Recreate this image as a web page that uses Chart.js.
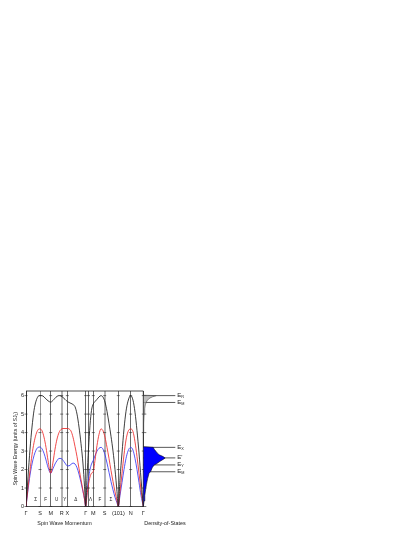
<!DOCTYPE html>
<html>
<head>
<meta charset="utf-8">
<script src="https://cdn.jsdelivr.net/npm/chart.js@4.4.1/dist/chart.umd.min.js"></script>
<style>
  html, body { margin: 0; padding: 0; background: #fff; width: 415px; height: 537px; overflow: hidden; }
  canvas { position: absolute; top: 380px; }
  #main { left: 0; }
  #dos { left: 143px; }
</style>
</head>
<body>
<canvas id="main" width="160" height="157"></canvas>
<canvas id="dos" width="60" height="157"></canvas>
<script>
// ---- data (momentum path in arbitrary path-length units, energies in SJ1) ----
const symK      = [0, 14, 24.7, 35.7, 41.3, 59.7, 62.5, 67.3, 78.7, 92.3, 104.7, 117.3];
const symLabels = ['Γ', 'S', 'M', 'R', 'X', 'Γ', '', 'M', 'S', '(101)', 'N', 'Γ'];
const segK      = [9.7, 19.7, 30.7, 38.7, 49.7, 64.5, 74, 85];
const segLabels = ['Σ', 'F', 'U', 'Y', 'Δ', 'Λ', 'F', 'Σ'];

const kPath = [0, 2, 4, 6, 8, 10, 12, 14, 16, 18, 20, 22, 24.7, 27, 29, 31, 33, 35, 37, 39,
  41.3, 43, 45, 47, 49, 51, 53, 55, 57, 58.5, 59.7, 61, 62.5, 64, 65.5, 67.3, 69, 71, 73, 75,
  77, 79, 81, 83, 85, 87, 89, 91, 92.3, 94, 96, 98, 100, 102, 104.7, 107, 109, 111, 113, 115, 117.3];

const eBlack = [0, 1.6, 3.1, 4.3, 5.2, 5.7, 5.95, 6.0, 6.0, 5.93, 5.82, 5.72, 5.65, 5.74, 5.86, 5.96, 6.0, 5.98, 5.9, 5.8,
  5.68, 5.63, 5.58, 5.52, 5.4, 5.0, 4.3, 3.4, 2.3, 1.1, 0, 1.6, 3.1, 4.4, 5.2, 5.55, 5.68, 5.8, 5.93, 6.0,
  5.92, 5.65, 5.15, 4.5, 3.8, 3.0, 2.0, 0.8, 0, 1.5, 2.9, 4.2, 5.15, 5.7, 6.0, 5.75, 5.1, 4.1, 2.9, 1.5, 0];

const eRed = [0, 1.0, 1.95, 2.8, 3.45, 3.9, 4.15, 4.2, 4.1, 3.75, 3.2, 2.5, 1.8, 2.4, 3.1, 3.65, 4.0, 4.17, 4.22, 4.22,
  4.22, 4.2, 4.08, 3.75, 3.25, 2.7, 2.05, 1.45, 0.85, 0.4, 0, 0.6, 1.2, 1.6, 1.8, 1.9, 2.5, 3.3, 3.9, 4.2,
  4.1, 3.75, 3.2, 2.6, 1.95, 1.35, 0.8, 0.3, 0, 0.8, 1.8, 2.8, 3.6, 4.05, 4.2, 4.05, 3.5, 2.7, 1.8, 0.9, 0];

const eBlue = [0, 0.9, 1.7, 2.3, 2.75, 3.05, 3.2, 3.22, 3.12, 2.88, 2.52, 2.12, 1.8, 2.05, 2.3, 2.48, 2.6, 2.6, 2.5, 2.35,
  2.2, 2.2, 2.28, 2.35, 2.3, 2.1, 1.75, 1.3, 0.8, 0.4, 0, 0.8, 1.5, 2.0, 2.3, 2.5, 2.75, 3.0, 3.15, 3.2,
  3.1, 2.8, 2.35, 1.85, 1.35, 0.9, 0.5, 0.2, 0, 0.6, 1.3, 2.0, 2.6, 3.0, 3.2, 3.05, 2.6, 2.0, 1.3, 0.6, 0];

// density of states (energy, states in arbitrary units)
const dosBlueE = [0, 0.3, 0.6, 0.9, 1.2, 1.5, 1.8, 1.9, 2.1, 2.25, 2.3, 2.45, 2.55, 2.62, 2.7, 2.8, 2.9, 3.0, 3.1, 3.2, 3.24];
const dosBlueN = [0, 0.8, 1.5, 2.3, 3.2, 4.3, 5.8, 7.5, 9, 11, 13, 17, 20, 22, 20, 16, 14, 12.5, 11, 10, 0];
const dosGrayE = [4.0, 4.5, 5.0, 5.3, 5.5, 5.65, 5.75, 5.85, 5.93, 5.98, 6.0, 6.02];
const dosGrayN = [0, 0.4, 0.9, 1.4, 2.0, 3.0, 4.2, 6.0, 9, 12, 13, 0];

const levelE      = [6.0, 5.63, 3.2, 2.63, 2.25, 1.88];
const levelName   = ['R', 'M', 'X', '', 'Y', 'M'];
const levelPrime  = [false, false, false, true, false, false];

const E_MAX = 6.25;
const FONT = '"Liberation Sans", Arial, sans-serif';
const INK = '#222';

function band(values, color) {
  return {
    data: kPath.map((k, i) => ({ x: k, y: values[i] })),
    borderColor: color,
    borderWidth: 0.85,
    pointRadius: 0,
    cubicInterpolationMode: 'monotone',
    fill: false
  };
}

// frame, tick crosses on symmetry lines, segment letters, axis title
const framePlugin = {
  id: 'frame',
  afterDraw(chart) {
    const { ctx, chartArea: a, scales: { x, y } } = chart;
    ctx.save();
    ctx.strokeStyle = INK;
    ctx.lineWidth = 0.8;
    ctx.beginPath();
    ctx.moveTo(a.left, a.top);
    ctx.lineTo(a.right, a.top);
    ctx.lineTo(a.right, a.bottom);
    ctx.stroke();

    ctx.lineWidth = 0.6;
    const levels = y.ticks.map(t => t.value);
    symK.forEach((k, i) => {
      const px = x.getPixelForValue(k);
      const right = i === symK.length - 1 ? 3 : 1.5;
      levels.forEach(e => {
        const py = y.getPixelForValue(e);
        ctx.beginPath();
        ctx.moveTo(px - 1.5, py);
        ctx.lineTo(px + right, py);
        ctx.stroke();
      });
    });

    ctx.fillStyle = INK;
    ctx.textAlign = 'center';
    ctx.textBaseline = 'middle';
    ctx.font = '4.6px ' + FONT;
    segLabels.forEach((t, i) => {
      ctx.fillText(t, x.getPixelForValue(segK[i]), y.getPixelForValue(0.38));
    });

    ctx.font = '5.4px ' + FONT;
    ctx.fillText('Spin Wave Momentum', 64.5, a.bottom + 17.5);
    ctx.restore();
  }
};

new Chart(document.getElementById('main'), {
  type: 'line',
  data: { datasets: [band(eBlack, '#1c1c1c'), band(eRed, '#ee2a2a'), band(eBlue, '#3838f2')] },
  options: {
    responsive: false,
    animation: false,
    events: [],
    layout: { padding: { left: 12, right: 16.7, top: 11, bottom: 18.5 } },
    plugins: { legend: { display: false }, tooltip: { enabled: false } },
    scales: {
      x: {
        type: 'linear', min: 0, max: 117.3,
        afterBuildTicks: s => { s.ticks = symK.map(v => ({ value: v })); },
        afterFit: s => { s.height = 12; },
        ticks: {
          autoSkip: false, maxRotation: 0, padding: 4, color: INK,
          font: { size: 5.5, family: FONT },
          callback: (v, i) => symLabels[i]
        },
        grid: {
          drawTicks: false,
          color: c => (c.index === 3 || c.index === 8) ? '#b4b4b4' : (c.index === 1 ? '#666' : '#2a2a2a'),
          lineWidth: c => (c.index === 3 || c.index === 8) ? 2 : 0.7
        },
        border: { color: INK, width: 0.8 }
      },
      y: {
        type: 'linear', min: 0, max: E_MAX,
        afterFit: s => { s.width = 14; },
        ticks: { stepSize: 1, includeBounds: false, padding: 2, color: INK, font: { size: 5.5, family: FONT } },
        grid: { display: false, drawTicks: false },
        border: { display: true, color: INK, width: 0.8 },
        title: { display: true, text: 'Spin Wave Energy (units of SJ₁)', color: INK, padding: 0, font: { size: 5.2, family: FONT } }
      }
    }
  },
  plugins: [framePlugin]
});

// level lines behind the fills, labels and panel title on top
const dosPlugin = {
  id: 'dosLevels',
  beforeDatasetsDraw(chart) {
    const { ctx, chartArea: a, scales: { y } } = chart;
    ctx.save();
    ctx.strokeStyle = '#111';
    ctx.lineWidth = 0.7;
    levelE.forEach(e => {
      const py = y.getPixelForValue(e);
      ctx.beginPath();
      ctx.moveTo(a.left, py);
      ctx.lineTo(a.left + 32, py);
      ctx.stroke();
    });
    ctx.restore();
  },
  afterDraw(chart) {
    const { ctx, chartArea: a, scales: { y } } = chart;
    ctx.save();
    ctx.fillStyle = INK;
    ctx.textBaseline = 'middle';
    ctx.textAlign = 'left';
    levelE.forEach((e, i) => {
      const py = y.getPixelForValue(e) - 0.5;
      const lx = a.left + 34;
      ctx.font = '6px ' + FONT;
      ctx.fillText(levelPrime[i] ? "E'" : 'E', lx, py);
      if (levelName[i]) {
        ctx.font = '3.8px ' + FONT;
        ctx.fillText(levelName[i], lx + 4, py + 2);
      }
    });
    ctx.textAlign = 'center';
    ctx.font = '5.4px ' + FONT;
    ctx.fillText('Density-of-States', 22, a.bottom + 17.5);
    ctx.restore();
  }
};

new Chart(document.getElementById('dos'), {
  type: 'line',
  data: {
    datasets: [
      {
        data: dosGrayE.map((e, i) => ({ x: dosGrayN[i], y: e })),
        fill: 'origin',
        backgroundColor: 'rgba(170,170,170,0.75)',
        borderColor: '#4a4a4a',
        borderWidth: 0.6,
        pointRadius: 0
      },
      {
        data: dosBlueE.map((e, i) => ({ x: dosBlueN[i], y: e })),
        fill: 'origin',
        backgroundColor: '#0000ff',
        borderColor: '#111',
        borderWidth: 0.6,
        pointRadius: 0
      }
    ]
  },
  options: {
    indexAxis: 'y',
    responsive: false,
    animation: false,
    events: [],
    layout: { padding: { left: 0.3, right: 20, top: 11, bottom: 30.5 } },
    plugins: { legend: { display: false }, tooltip: { enabled: false } },
    scales: {
      x: { type: 'linear', min: 0, max: 40, display: false },
      y: { type: 'linear', min: 0, max: E_MAX, display: false }
    }
  },
  plugins: [dosPlugin]
});
</script>
</body>
</html>
